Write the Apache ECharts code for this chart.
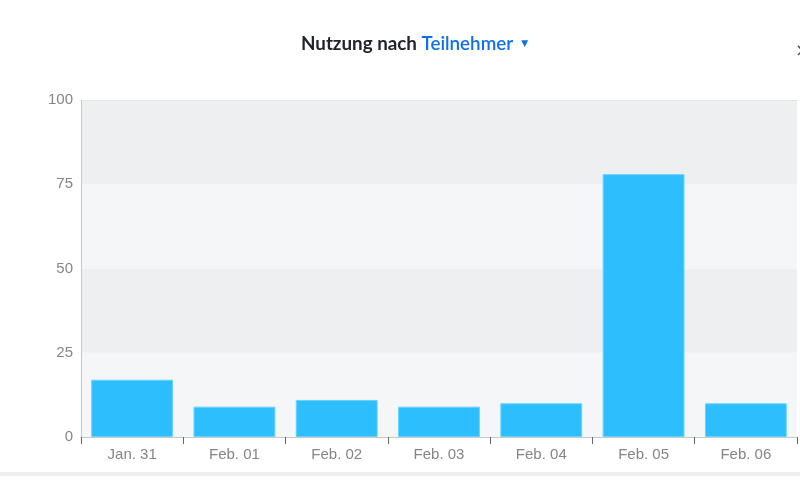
<!DOCTYPE html>
<html>
<head>
<meta charset="utf-8">
<script src="https://cdn.jsdelivr.net/npm/echarts@6/dist/echarts.min.js"></script>
<style>html,body{margin:0;padding:0;background:#fff;}#c{width:800px;height:483px;}</style>
</head>
<body>
<div id="c"></div>
<script>
const categories = ['Jan. 31', 'Feb. 01', 'Feb. 02', 'Feb. 03', 'Feb. 04', 'Feb. 05', 'Feb. 06'];
const usageValues = [17, 9, 11, 9, 10, 78, 10];
const yTicks = [0, 25, 50, 75, 100];

const chart = echarts.init(document.getElementById('c'), null, {renderer: 'canvas'});
chart.setOption({
  animation: false,
  backgroundColor: '#ffffff',
  title: {
    text: '{a|Nutzung nach }{b|Teilnehmer}{c|▼}',
    left: 296,
    top: 29,
    textStyle: {
      rich: {
        a: {fontFamily: 'Lato', fontSize: 18.8, fontWeight: 'bold', color: '#23232f'},
        b: {fontFamily: 'Lato', fontSize: 18.8, fontWeight: 600, color: '#0e71eb'},
        c: {fontFamily: 'DejaVu Sans', fontSize: 9, color: '#0e71eb', padding: [0, 0, 0, 8]}
      }
    }
  },
  graphic: [
    {type: 'rect', left: 0, top: 472, shape: {width: 800, height: 4}, style: {fill: '#eeeff1'}},
    {type: 'text', left: 795, top: 42, style: {text: '×', fontSize: 18, fill: '#555', fontFamily: 'DejaVu Sans'}}
  ],
  grid: {left: 81, right: 3, top: 100, bottom: 46},
  xAxis: [{
    type: 'category',
    data: categories,
    boundaryGap: true,
    axisLine: {lineStyle: {color: '#c8c8c8', width: 1}},
    axisTick: {show: true, length: 7, lineStyle: {color: '#666'}},
    axisLabel: {color: '#858585', fontSize: 15, fontFamily: 'Liberation Sans', margin: 10}
  }, {
    type: 'category',
    position: 'top',
    data: categories,
    axisLine: {show: true, lineStyle: {color: '#e4e4e6'}},
    axisTick: {show: false},
    axisLabel: {show: false}
  }],
  yAxis: {
    type: 'value',
    min: yTicks[0],
    max: yTicks[yTicks.length - 1],
    interval: 25,
    axisLine: {show: true, lineStyle: {color: '#c8c8c8'}},
    axisTick: {show: false},
    splitLine: {show: false},
    splitArea: {show: true, areaStyle: {color: ['#f5f6f8', '#eeeff1']}},
    axisLabel: {color: '#858585', fontSize: 15, fontFamily: 'Liberation Sans', margin: 8}
  },
  series: [{
    type: 'bar',
    data: usageValues,
    barWidth: '80%',
    itemStyle: {color: '#2dbefe', borderColor: '#66d2ff', borderWidth: 1}
  }]
});
</script>
</body>
</html>
